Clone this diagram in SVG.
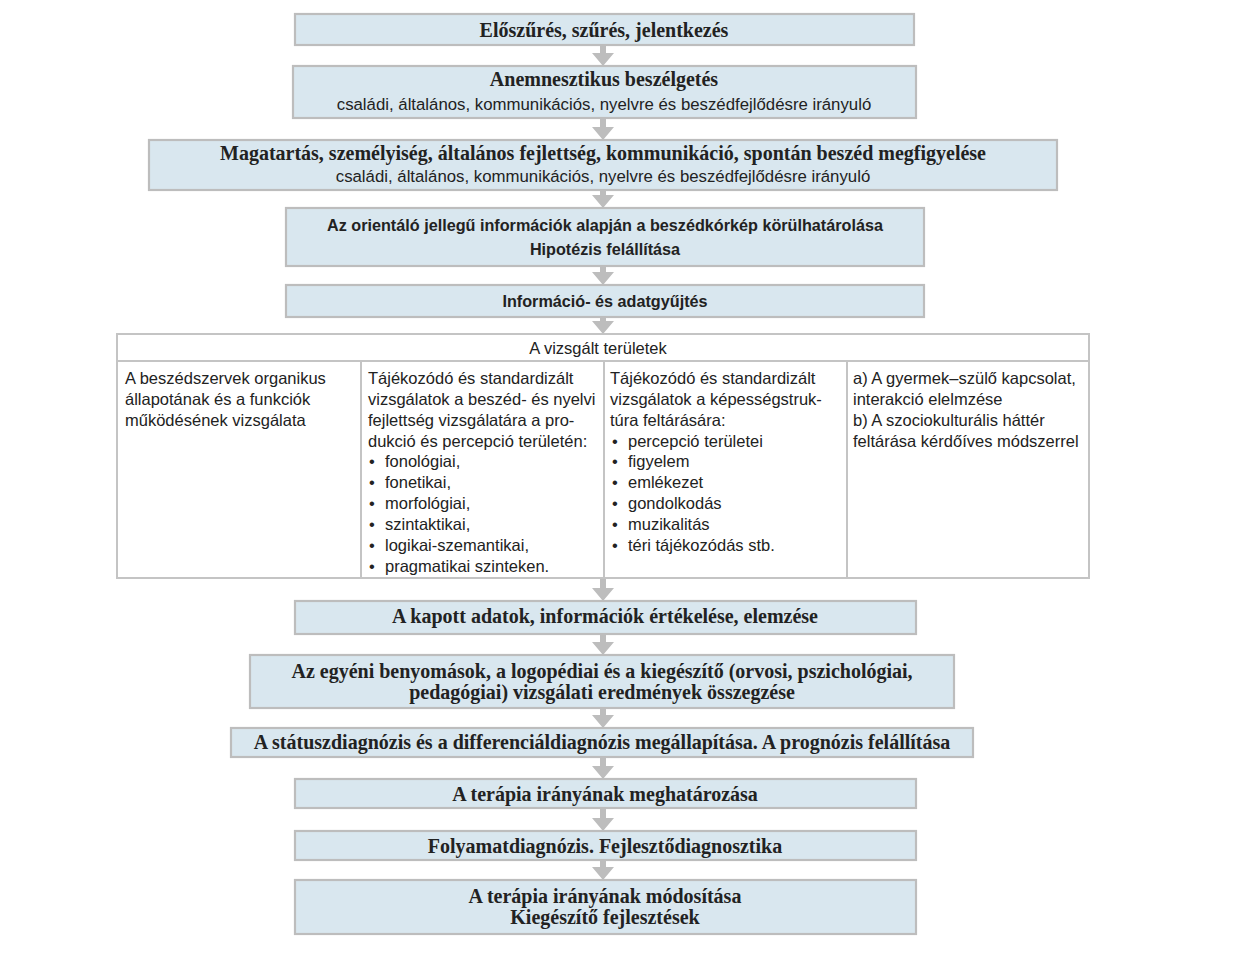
<svg xmlns="http://www.w3.org/2000/svg" width="1240" height="962" viewBox="0 0 1240 962">
<style>
.box{fill:#d9e7ef;stroke:#bdbdbd;stroke-width:2.2}
.cell{fill:#ffffff;stroke:#c4c4c4;stroke-width:2}
.tb{font-family:"Liberation Serif",serif;font-weight:bold;font-size:20px;fill:#222;text-anchor:middle}
.ts{font-family:"Liberation Sans",sans-serif;font-size:16.8px;fill:#222;text-anchor:middle}
.th{font-family:"Liberation Sans",sans-serif;font-size:16.5px;fill:#222;text-anchor:middle}
.tsb{font-family:"Liberation Sans",sans-serif;font-weight:bold;font-size:16.2px;fill:#222;text-anchor:middle}
.tt{font-family:"Liberation Sans",sans-serif;font-size:16.5px;fill:#222}
.arr{fill:#bdbdbd}
</style>
<rect width="1240" height="962" fill="#ffffff"/>
<g id="connectors">
<path class="arr" d="M600,45 h6 v8 h8 l-11,13 l-11,-13 h8 z"/>
<path class="arr" d="M600,118 h6 v9 h8 l-11,13 l-11,-13 h8 z"/>
<path class="arr" d="M600,190 h6 v5 h8 l-11,13 l-11,-13 h8 z"/>
<path class="arr" d="M600,266 h6 v6 h8 l-11,13 l-11,-13 h8 z"/>
<path class="arr" d="M600,317 h6 v4 h8 l-11,13 l-11,-13 h8 z"/>
<path class="arr" d="M600,578 h6 v10 h8 l-11,13 l-11,-13 h8 z"/>
<path class="arr" d="M600,634 h6 v8 h8 l-11,13 l-11,-13 h8 z"/>
<path class="arr" d="M600,708 h6 v7 h8 l-11,13 l-11,-13 h8 z"/>
<path class="arr" d="M600,757 h6 v9 h8 l-11,13 l-11,-13 h8 z"/>
<path class="arr" d="M600,808 h6 v10 h8 l-11,13 l-11,-13 h8 z"/>
<path class="arr" d="M600,860 h6 v7 h8 l-11,13 l-11,-13 h8 z"/>
</g>
<g id="n1"><rect class="box" x="295" y="14" width="619" height="31"/><text class="tb" x="604" y="37">Előszűrés, szűrés, jelentkezés</text></g>
<g id="n2"><rect class="box" x="293" y="66" width="623" height="52"/><text class="tb" x="604" y="86">Anemnesztikus beszélgetés</text><text class="ts" x="604" y="110">családi, általános, kommunikációs, nyelvre és beszédfejlődésre irányuló</text></g>
<g id="n3"><rect class="box" x="149" y="140" width="908" height="50"/><text class="tb" x="603" y="160">Magatartás, személyiség, általános fejlettség, kommunikáció, spontán beszéd megfigyelése</text><text class="ts" x="603" y="182">családi, általános, kommunikációs, nyelvre és beszédfejlődésre irányuló</text></g>
<g id="n4"><rect class="box" x="286" y="208" width="638" height="58"/><text class="tsb" x="605" y="231">Az orientáló jellegű információk alapján a beszédkórkép körülhatárolása</text><text class="tsb" x="605" y="255">Hipotézis felállítása</text></g>
<g id="n5"><rect class="box" x="286" y="285" width="638" height="32"/><text class="tsb" x="605" y="307">Információ- és adatgyűjtés</text></g>
<g id="table">
<rect class="cell" x="117" y="334" width="972" height="27"/>
<text class="th" x="598" y="354">A vizsgált területek</text>
<rect class="cell" x="117" y="361" width="244" height="217"/>
<rect class="cell" x="361" y="361" width="243" height="217"/>
<rect class="cell" x="604" y="361" width="243" height="217"/>
<rect class="cell" x="847" y="361" width="242" height="217"/>
<text class="tt" x="125" y="384">A beszédszervek organikus</text>
<text class="tt" x="125" y="405">állapotának és a funkciók</text>
<text class="tt" x="125" y="426">működésének vizsgálata</text>
<text class="tt" x="368" y="384">Tájékozódó és standardizált</text>
<text class="tt" x="368" y="405">vizsgálatok a beszéd- és nyelvi</text>
<text class="tt" x="368" y="426">fejlettség vizsgálatára a pro-</text>
<text class="tt" x="368" y="447">dukció és percepció területén:</text>
<text class="tt" x="369" y="467">•</text><text class="tt" x="385" y="467">fonológiai,</text>
<text class="tt" x="369" y="488">•</text><text class="tt" x="385" y="488">fonetikai,</text>
<text class="tt" x="369" y="509">•</text><text class="tt" x="385" y="509">morfológiai,</text>
<text class="tt" x="369" y="530">•</text><text class="tt" x="385" y="530">szintaktikai,</text>
<text class="tt" x="369" y="551">•</text><text class="tt" x="385" y="551">logikai-szemantikai,</text>
<text class="tt" x="369" y="572">•</text><text class="tt" x="385" y="572">pragmatikai szinteken.</text>
<text class="tt" x="610" y="384">Tájékozódó és standardizált</text>
<text class="tt" x="610" y="405">vizsgálatok a képességstruk-</text>
<text class="tt" x="610" y="426">túra feltárására:</text>
<text class="tt" x="612" y="447">•</text><text class="tt" x="628" y="447">percepció területei</text>
<text class="tt" x="612" y="467">•</text><text class="tt" x="628" y="467">figyelem</text>
<text class="tt" x="612" y="488">•</text><text class="tt" x="628" y="488">emlékezet</text>
<text class="tt" x="612" y="509">•</text><text class="tt" x="628" y="509">gondolkodás</text>
<text class="tt" x="612" y="530">•</text><text class="tt" x="628" y="530">muzikalitás</text>
<text class="tt" x="612" y="551">•</text><text class="tt" x="628" y="551">téri tájékozódás stb.</text>
<text class="tt" x="853" y="384">a) A gyermek–szülő kapcsolat,</text>
<text class="tt" x="853" y="405">interakció elelmzése</text>
<text class="tt" x="853" y="426">b) A szociokulturális háttér</text>
<text class="tt" x="853" y="447">feltárása kérdőíves módszerrel</text>
</g>
<g id="n6"><rect class="box" x="295" y="601" width="621" height="33"/><text class="tb" x="605" y="623">A kapott adatok, információk értékelése, elemzése</text></g>
<g id="n7"><rect class="box" x="250" y="655" width="704" height="53"/><text class="tb" x="602" y="678">Az egyéni benyomások, a logopédiai és a kiegészítő (orvosi, pszichológiai,</text><text class="tb" x="602" y="699">pedagógiai) vizsgálati eredmények összegzése</text></g>
<g id="n8"><rect class="box" x="231" y="728" width="742" height="29"/><text class="tb" x="602" y="749">A státuszdiagnózis és a differenciáldiagnózis megállapítása. A prognózis felállítása</text></g>
<g id="n9"><rect class="box" x="295" y="779" width="621" height="29"/><text class="tb" x="605" y="801">A terápia irányának meghatározása</text></g>
<g id="n10"><rect class="box" x="295" y="831" width="621" height="29"/><text class="tb" x="605" y="853">Folyamatdiagnózis. Fejlesztődiagnosztika</text></g>
<g id="n11"><rect class="box" x="295" y="880" width="621" height="54"/><text class="tb" x="605" y="903">A terápia irányának módosítása</text><text class="tb" x="605" y="924">Kiegészítő fejlesztések</text></g>
</svg>
